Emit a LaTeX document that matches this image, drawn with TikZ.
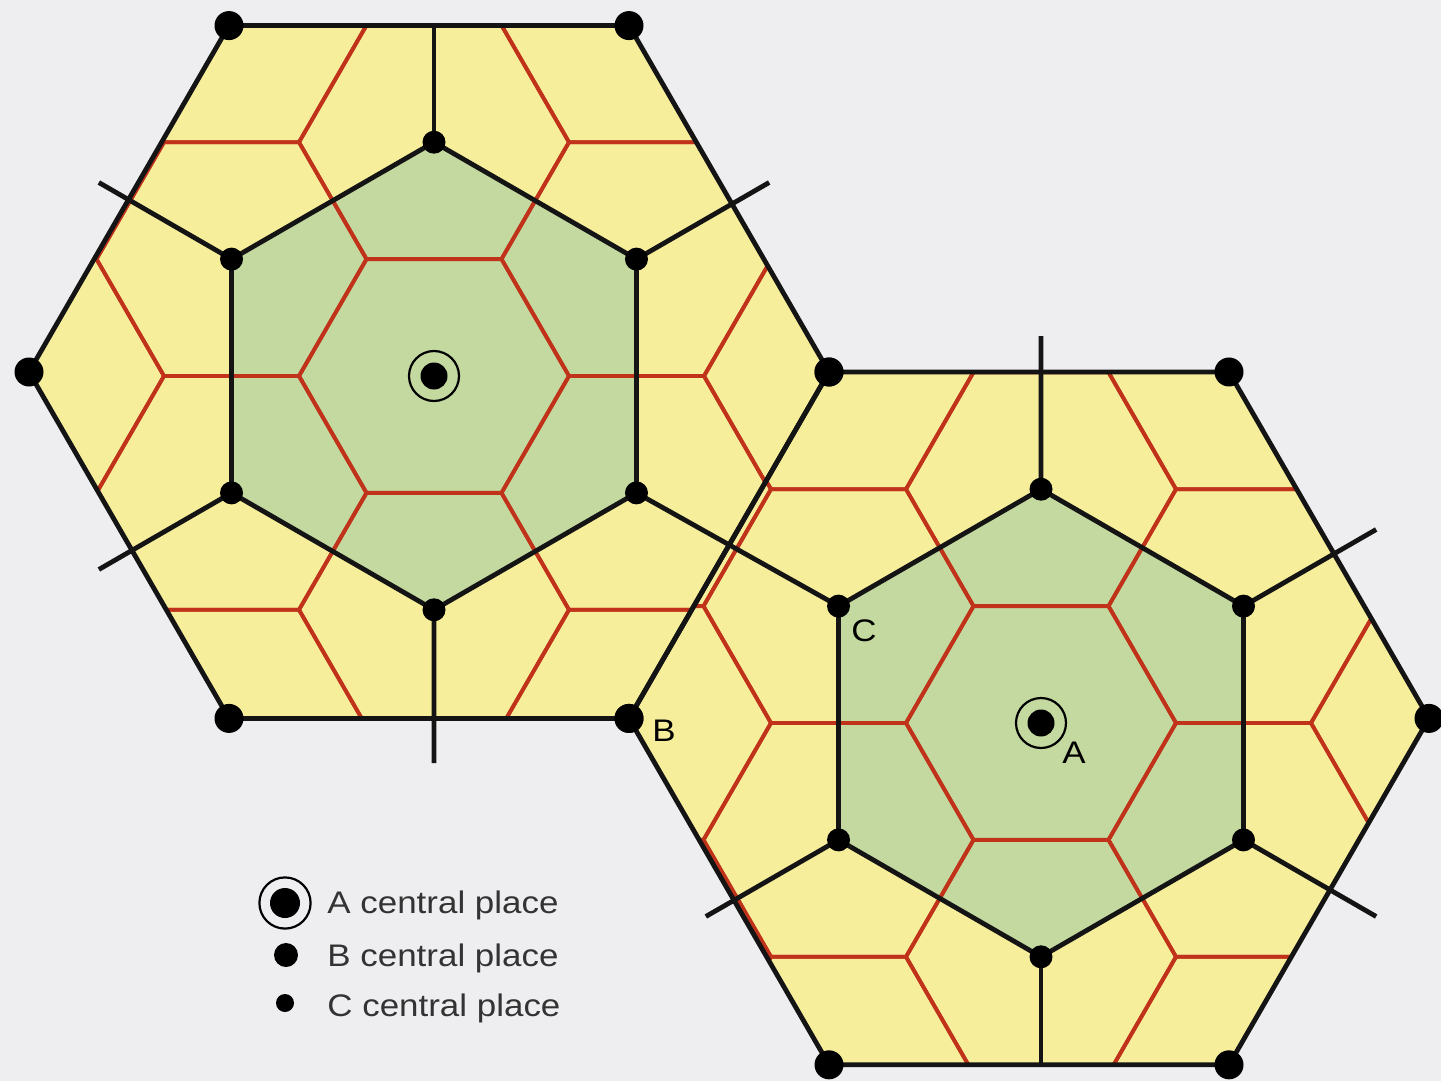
\documentclass[tikz,border=0pt]{standalone}
\usepackage{fontspec}
\newfontfamily\legfont[FakeStretch=1.12]{Liberation Sans}
\usetikzlibrary{calc}
\definecolor{bgc}{HTML}{EEEEF1}
\definecolor{yel}{HTML}{F7EE9C}
\definecolor{grn}{HTML}{C3D9A0}
\definecolor{redl}{HTML}{C0321A}
\definecolor{txt}{HTML}{333333}
\begin{document}
\begin{tikzpicture}[x=0.5pt,y=-0.5pt,line join=round,
  blk/.style={line width=2.4pt,draw=black!92},
  redgrid/.style={line width=1.9pt,draw=redl},
  bdot/.style={circle,fill=black,inner sep=0pt,minimum size=14.5pt},
  cdot/.style={circle,fill=black,inner sep=0pt,minimum size=11.5pt},
  adot/.style={circle,fill=black,inner sep=0pt,minimum size=13.5pt},
  ring/.style={line width=1.1pt,draw=black},
  lab/.style={font=\legfont\fontsize{15.6}{18}\selectfont,text=txt,inner sep=0pt},
  leg/.style={lab,anchor=base west}]
\useasboundingbox (0,0) rectangle (1441,1081);
\fill[bgc] (0,0) rectangle (1441,1081);
% centres
\coordinate (LC) at (429,372);
\coordinate (RC) at (1029,718.4);
\coordinate (LI) at (434,376);
\coordinate (RI) at (1041,723);
\foreach \k in {0,...,5}{
  \coordinate (LV\k) at ($(LC)+(\k*60:400)$);
  \coordinate (RV\k) at ($(RC)+(\k*60:400)$);
  \coordinate (LG\k) at ($(LI)+(30+\k*60:233.8)$);
  \coordinate (RG\k) at ($(RI)+(30+\k*60:233.8)$);
  \coordinate (LT\k) at ($(LI)+(30+\k*60:387)$);
  \coordinate (RT\k) at ($(RI)+(30+\k*60:387)$);
}
% fills
\fill[yel] (LV0)--(LV1)--(LV2)--(LV3)--(LV4)--(LV5)--cycle;
\fill[yel] (RV0)--(RV1)--(RV2)--(RV3)--(RV4)--(RV5)--cycle;
\fill[grn] (LG0)--(LG1)--(LG2)--(LG3)--(LG4)--(LG5)--cycle;
\fill[grn] (RG0)--(RG1)--(RG2)--(RG3)--(RG4)--(RG5)--cycle;
% red lattice
\begin{scope}
\clip (LV0)--(LV1)--(LV2)--(LV3)--(LV4)--(LV5)--cycle;
\foreach \i in {-3,...,3}{\foreach \j in {-4,...,4}{
  \draw[redgrid] ($(LI)+({\i*202.5},{\i*116.9+\j*233.8})$) +(0:135) -- +(60:135) -- +(120:135) -- +(180:135) -- +(240:135) -- +(300:135) -- cycle;
}}
\end{scope}
\begin{scope}
\clip (RV0)--(RV1)--(RV2)--(RV3)--(RV4)--(RV5)--cycle;
\foreach \i in {-3,...,3}{\foreach \j in {-4,...,4}{
  \draw[redgrid] ($(RI)+({\i*202.5},{\i*116.9+\j*233.8})$) +(0:135) -- +(60:135) -- +(120:135) -- +(180:135) -- +(240:135) -- +(300:135) -- cycle;
}}
\end{scope}
% black outlines
\draw[blk] (LV0)--(LV1)--(LV2)--(LV3)--(LV4)--(LV5)--cycle;
\draw[blk] (RV0)--(RV1)--(RV2)--(RV3)--(RV4)--(RV5)--cycle;
\draw[blk] (LG0)--(LG1)--(LG2)--(LG3)--(LG4)--(LG5)--cycle;
\draw[blk] (RG0)--(RG1)--(RG2)--(RG3)--(RG4)--(RG5)--cycle;
% radial boundary lines
\draw[blk] (LG1)--(LT1) (LG2)--(LT2) (LG3)--(LT3) (LG5)--(LT5);
\draw[blk] (LG4)--(LG4 |- LV4);
\draw[blk] (LG0)--(RG3);
\draw[blk] (RG4)--(RT4) (RG5)--(RT5) (RG0)--(RT0) (RG2)--(RT2);
\draw[blk] (RG1)--(RG1 |- RV1);
% central places
\foreach \k in {0,...,5}{
  \node[bdot] (lb\k) at (LV\k) {};
  \node[bdot] (rb\k) at (RV\k) {};
  \node[cdot] (lc\k) at (LG\k) {};
  \node[cdot] (rc\k) at (RG\k) {};
}
\node[adot] (la) at (LI) {};
\draw[ring] (LI) circle[radius=12.5pt];
\node[adot] (ra) at (RI) {};
\draw[ring] (RI) circle[radius=12.5pt];
% labels
\node[lab,text=black] (labC) at (864,631) {C};
\node[lab,text=black] (labB) at (664,731) {B};
\node[lab,text=black] (labA) at (1074,753) {A};
% legend
\node[circle,fill=black,inner sep=0pt,minimum size=15pt] (kA) at (285,903) {};
\draw[ring] (kA.center) circle[radius=12.8pt];
\node[circle,fill=black,inner sep=0pt,minimum size=12pt] (kB) at (286,955) {};
\node[circle,fill=black,inner sep=0pt,minimum size=9pt] (kC) at (285,1003) {};
\node[leg] (tA) at (327,913) {A central place};
\node[leg] (tB) at (327,966) {B central place};
\node[leg] (tC) at (327,1016) {C central place};
\end{tikzpicture}
\end{document}
